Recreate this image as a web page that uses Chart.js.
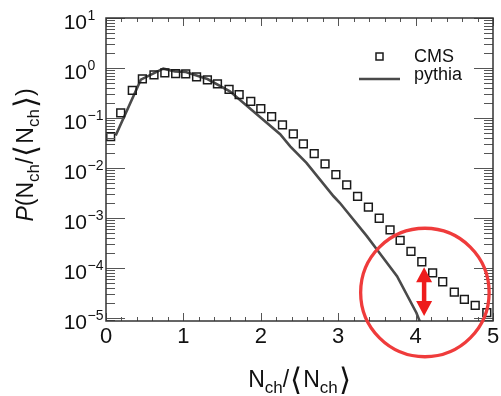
<!DOCTYPE html>
<html>
<head>
<meta charset="UTF-8">
<title>CMS vs pythia</title>
<script src="https://cdn.jsdelivr.net/npm/chart.js"></script>
<style>
  html, body { margin: 0; padding: 0; background: #fff; }
  #wrap { width: 501px; height: 396px; }
</style>
</head>
<body>
<div id="wrap"><canvas id="c" width="501" height="396"></canvas></div>
<script>
  // CMS points (open squares)
  const cmsX = [0.06, 0.19, 0.34, 0.47, 0.62, 0.76, 0.90, 1.03, 1.17, 1.31, 1.44, 1.59,
                1.72, 1.87, 2.00, 2.14, 2.28, 2.42, 2.55, 2.69, 2.83, 2.97, 3.11, 3.25,
                3.39, 3.53, 3.67, 3.80, 3.94, 4.08, 4.22, 4.35, 4.50, 4.63, 4.77, 4.92];
  const cmsY = [0.0423, 0.126, 0.356, 0.603, 0.724, 0.794, 0.769, 0.759, 0.661, 0.575, 0.479, 0.373,
                0.292, 0.215, 0.153, 0.106, 0.0724, 0.0479, 0.0302, 0.0193, 0.0120, 0.00735, 0.00457, 0.00270,
                0.00163, 9.8e-4, 5.75e-4, 3.52e-4, 2.12e-4, 1.32e-4, 7.9e-5, 5.25e-5, 3.25e-5, 2.32e-5, 1.76e-5, 1.26e-5];

  // pythia curve
  const pythiaX = [0.125, 0.45, 0.74, 0.89, 1.03, 1.31, 1.60, 2.25, 2.38, 2.59, 2.94, 3.02, 3.37, 3.50, 3.76, 4.01, 4.06];
  const pythiaY = [0.0443, 0.583, 0.97, 0.855, 0.83, 0.60, 0.34, 0.047, 0.027, 0.0126, 0.0027, 0.0020, 4.3e-4, 2.32e-4, 6.8e-5, 1.26e-5, 8.0e-6];

  const xTicks = [0, 1, 2, 3, 4, 5];
  const yTickExps = [1, 0, -1, -2, -3, -4, -5];
  const xRange = [0, 5];
  const yRange = [8.6e-6, 10];

  // red highlight (circle centre, radius in x units, double arrow)
  const markX = 4.12, markY = 3.2e-5, markR = 0.83;
  const arrowX = 4.11, arrowTop = 1.03e-4, arrowBottom = 1.08e-5;

  const FONT = "'Liberation Sans', Arial, Helvetica, sans-serif";
  const INK = '#111';

  function richWidth(ctx, parts) {
    let w = 0;
    parts.forEach(p => { ctx.font = p.f; w += ctx.measureText(p.t).width + (p.k || 0); });
    return w;
  }
  function drawRich(ctx, parts, x, y) {
    let cx = x;
    parts.forEach(p => {
      ctx.font = p.f;
      ctx.fillText(p.t, cx, y + (p.dy || 0));
      cx += ctx.measureText(p.t).width + (p.k || 0);
    });
  }

  const big = '23px ' + FONT, sub = '17px ' + FONT, brk = "200 31px 'DejaVu Sans', sans-serif";
  const ratioParts = [
    { t: 'N', f: big }, { t: 'ch', f: sub, dy: 6 }, { t: '/', f: big, k: 1 },
    { t: '\u27E8', f: brk, dy: 3, k: 1 }, { t: 'N', f: big }, { t: 'ch', f: sub, dy: 6, k: 1 },
    { t: '\u27E9', f: brk, dy: 3 }
  ];

  const decor = {
    id: 'decor',
    afterDraw(chart) {
      const ctx = chart.ctx;
      const a = chart.chartArea;
      const xs = chart.scales.x, ys = chart.scales.y;
      ctx.save();

      // ticks, all pointing inward
      ctx.strokeStyle = '#555';
      ctx.lineWidth = 1;
      ctx.beginPath();
      for (let i = 0; i <= 25; i++) {
        const v = i * 0.2;
        const px = Math.round(xs.getPixelForValue(v)) + 0.5;
        const len = i % 5 === 0 ? 8 : 4;
        ctx.moveTo(px, a.bottom); ctx.lineTo(px, a.bottom - len);
        ctx.moveTo(px, a.top); ctx.lineTo(px, a.top + len);
      }
      for (let e = -6; e <= 1; e++) {
        for (let m = 1; m <= 9; m++) {
          const v = m * Math.pow(10, e);
          if (v < yRange[0] || v > yRange[1] * 1.0001) continue;
          const py = Math.round(ys.getPixelForValue(v)) + 0.5;
          const len = m === 1 ? 19 : 9;
          ctx.moveTo(a.left, py); ctx.lineTo(a.left + len, py);
          ctx.moveTo(a.right, py); ctx.lineTo(a.right - len, py);
        }
      }
      ctx.stroke();

      // frame
      ctx.strokeStyle = '#333';
      ctx.lineWidth = 1.5;
      ctx.strokeRect(a.left, a.top, a.right - a.left, a.bottom - a.top);

      // x tick labels
      ctx.fillStyle = INK;
      ctx.textBaseline = 'alphabetic';
      ctx.textAlign = 'center';
      ctx.font = '22px ' + FONT;
      xTicks.forEach(v => ctx.fillText(String(v), xs.getPixelForValue(v), a.bottom + 22));

      // y tick labels 10^n
      yTickExps.forEach(e => {
        const py = ys.getPixelForValue(Math.pow(10, e));
        ctx.textAlign = 'right';
        ctx.font = '21px ' + FONT;
        ctx.fillText('10', a.left - 19, py + 11);
        ctx.textAlign = 'left';
        ctx.font = '14px ' + FONT;
        ctx.fillText(e < 0 ? '\u2212' + (-e) : String(e), a.left - 18.5, py + 2);
      });

      // x title
      ctx.textAlign = 'left';
      const wx = richWidth(ctx, ratioParts);
      drawRich(ctx, ratioParts, (a.left + a.right) / 2 - wx / 2, a.bottom + 66);

      // y title (rotated)
      const yParts = [{ t: 'P', f: 'italic ' + big }, { t: '(', f: big }]
        .concat(ratioParts, [{ t: ')', f: big }]);
      const wy = richWidth(ctx, yParts);
      ctx.save();
      ctx.translate(a.left - 73, a.top + 137);
      ctx.rotate(-Math.PI / 2);
      drawRich(ctx, yParts, -wy / 2, 0);
      ctx.restore();

      // legend
      const ds0 = chart.data.datasets[0], ds1 = chart.data.datasets[1];
      ctx.strokeStyle = ds0.pointBorderColor;
      ctx.lineWidth = ds0.pointBorderWidth;
      ctx.strokeRect(a.right - 117, a.top + 35, 7, 7);
      ctx.strokeStyle = ds1.borderColor;
      ctx.lineWidth = ds1.borderWidth;
      ctx.beginPath();
      ctx.moveTo(a.right - 134, a.top + 61); ctx.lineTo(a.right - 93, a.top + 61);
      ctx.stroke();
      ctx.fillStyle = INK;
      ctx.font = '18px ' + FONT;
      ctx.fillText(ds0.label, a.right - 79, a.top + 44);
      ctx.fillText(ds1.label, a.right - 79, a.top + 62);

      // red highlight circle
      const cx = xs.getPixelForValue(markX), cy = ys.getPixelForValue(markY);
      const r = xs.getPixelForValue(markX + markR) - cx;
      ctx.strokeStyle = '#ef3b3b';
      ctx.lineWidth = 3.3;
      ctx.beginPath();
      ctx.arc(cx, cy, r, 0, Math.PI * 2);
      ctx.stroke();

      // red double arrow
      const ax = xs.getPixelForValue(arrowX);
      const t = ys.getPixelForValue(arrowTop), b = ys.getPixelForValue(arrowBottom);
      const hl = 15, hw = 8;
      ctx.fillStyle = '#ee1c1c';
      ctx.strokeStyle = '#ee1c1c';
      ctx.lineWidth = 4.5;
      ctx.beginPath();
      ctx.moveTo(ax, t + hl - 2); ctx.lineTo(ax, b - hl + 2);
      ctx.stroke();
      ctx.beginPath();
      ctx.moveTo(ax, t); ctx.lineTo(ax - hw, t + hl); ctx.lineTo(ax + hw, t + hl); ctx.closePath();
      ctx.moveTo(ax, b); ctx.lineTo(ax - hw, b - hl); ctx.lineTo(ax + hw, b - hl); ctx.closePath();
      ctx.fill();

      ctx.restore();
    }
  };

  new Chart(document.getElementById('c'), {
    type: 'scatter',
    data: {
      datasets: [
        {
          label: 'CMS',
          data: cmsX.map((x, i) => ({ x: x, y: cmsY[i] })),
          showLine: false,
          pointStyle: 'rect',
          pointRadius: 5.5,
          pointBorderWidth: 1.5,
          pointBorderColor: '#1a1a1a',
          pointBackgroundColor: 'rgba(0,0,0,0)',
          order: 1
        },
        {
          label: 'pythia',
          data: pythiaX.map((x, i) => ({ x: x, y: pythiaY[i] })),
          showLine: true,
          borderColor: '#4a4a4a',
          borderWidth: 2.6,
          pointRadius: 0,
          tension: 0,
          order: 2
        }
      ]
    },
    options: {
      responsive: false,
      animation: false,
      devicePixelRatio: 1,
      layout: { padding: { left: 106, right: 8, top: 18, bottom: 75 } },
      scales: {
        x: { type: 'linear', min: xRange[0], max: xRange[1], display: false },
        y: { type: 'logarithmic', min: yRange[0], max: yRange[1], display: false }
      },
      plugins: { legend: { display: false }, tooltip: { enabled: false } }
    },
    plugins: [decor]
  });
</script>
</body>
</html>
